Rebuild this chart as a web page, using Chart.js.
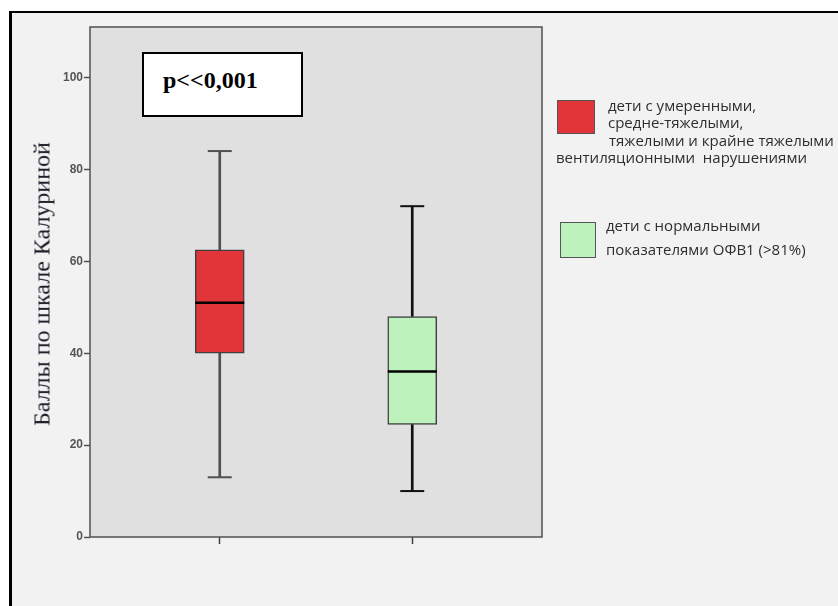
<!DOCTYPE html>
<html lang="ru">
<head>
<meta charset="utf-8">
<title>Баллы по шкале Калуриной</title>
<script src="https://cdn.jsdelivr.net/npm/chart.js@4.4.1/dist/chart.umd.min.js"></script>
<style>
  html, body { margin: 0; padding: 0; background: #ffffff; }
  body { width: 838px; height: 606px; position: relative; overflow: hidden; }
  .frame {
    position: absolute; left: 9px; top: 11px; width: 860px; height: 620px;
    background: #f2f2f2; border-left: 3px solid #000; border-top: 2px solid #000;
  }
  #chart { position: absolute; left: 0; top: 0; }
  .ytitle {
    position: absolute; left: 42px; top: 284px;
    transform: translate(-50%, -50%) rotate(-90deg);
    font-family: "Liberation Serif", "Times New Roman", serif;
    font-size: 24px; color: #1c1c28; white-space: nowrap;
  }
  .pbox {
    position: absolute; left: 142px; top: 52px; width: 157px; height: 61px;
    background: #fff; border: 2px solid #000;
  }
  .pbox span {
    position: absolute; left: 19px; top: 13px;
    font-family: "Liberation Serif", "Times New Roman", serif;
    font-weight: bold; font-size: 24px; color: #000; white-space: nowrap;
  }
  .swatch { position: absolute; border: 1px solid #555; box-sizing: border-box; }
  .ltext {
    position: absolute; font-family: "Open Sans", "Noto Sans", sans-serif;
    font-size: 15px; color: #2e2e2e; white-space: nowrap; line-height: 17px;
  }
</style>
</head>
<body>
<div class="frame"></div>
<canvas id="chart" width="838" height="606"></canvas>
<div class="ytitle">Баллы по шкале Калуриной</div>
<div class="pbox"><span>p&lt;&lt;0,001</span></div>

<div class="swatch" id="sw0" style="left:557px;top:100px;width:38px;height:34px;"></div>
<div class="ltext" style="left:608px;top:97px;">дети с умеренными,</div>
<div class="ltext" style="left:608px;top:114px;">средне-тяжелыми,</div>
<div class="ltext" style="left:609px;top:132px;">тяжелыми и крайне тяжелыми</div>
<div class="ltext" style="left:556px;top:149px;">вентиляционными&nbsp; нарушениями</div>

<div class="swatch" id="sw1" style="left:560px;top:222px;width:36px;height:36px;"></div>
<div class="ltext" style="left:606px;top:217px;">дети с нормальными</div>
<div class="ltext" style="left:606px;top:241px;">показателями ОФВ1 (&gt;81%)</div>

<script>
// Two patient groups, each summarised as a box plot
const groups = ['умеренные и тяжелые нарушения', 'нормальный ОФВ1'];
const groupPositions = [1, 2];
const whiskerLow = [13, 10];
const quartile1 = [40, 24.5];
const medians = [51, 36];
const quartile3 = [62.5, 48];
const whiskerHigh = [84, 72];
const yTicks = [0, 20, 40, 60, 80, 100];

const boxColors = ['#e2353a', '#bdf2bd'];
const whiskerColors = ['#505050', '#111111'];

document.getElementById('sw0').style.background = boxColors[0];
document.getElementById('sw1').style.background = boxColors[1];

// grey plot area with a thin frame
const plotFrame = {
  id: 'plotFrame',
  beforeDraw(chart) {
    const { ctx, chartArea: a } = chart;
    ctx.save();
    ctx.fillStyle = '#e0e0e0';
    ctx.fillRect(a.left, a.top, a.right - a.left, a.bottom - a.top);
    ctx.restore();
  },
  afterDraw(chart) {
    const { ctx, chartArea: a } = chart;
    ctx.save();
    ctx.strokeStyle = '#505050';
    ctx.lineWidth = 1.5;
    ctx.strokeRect(a.left, a.top, a.right - a.left, a.bottom - a.top);
    ctx.restore();
  }
};

const capPoints = [];
const capColors = [];
groupPositions.forEach((x, i) => {
  capPoints.push({ x, y: whiskerLow[i] }, { x, y: whiskerHigh[i] });
  capColors.push(whiskerColors[i], whiskerColors[i]);
});

const whiskerBars = [];
const whiskerBarColors = [];
groupPositions.forEach((x, i) => {
  whiskerBars.push({ x, y: [whiskerLow[i], quartile1[i]] }, { x, y: [quartile3[i], whiskerHigh[i]] });
  whiskerBarColors.push(whiskerColors[i], whiskerColors[i]);
});

new Chart(document.getElementById('chart'), {
  type: 'bar',
  data: {
    datasets: [
      {
        type: 'scatter', label: 'медиана',
        data: groupPositions.map((x, i) => ({ x, y: medians[i] })),
        pointStyle: 'line', pointRadius: 24.5, borderColor: '#000', borderWidth: 2.5,
        pointHoverRadius: 24.5
      },
      {
        type: 'scatter', label: 'границы',
        data: capPoints,
        pointStyle: 'line', pointRadius: 12, borderColor: capColors, borderWidth: 2,
        pointHoverRadius: 12
      },
      {
        label: 'квартили',
        data: groupPositions.map((x, i) => ({ x, y: [quartile1[i], quartile3[i]] })),
        backgroundColor: boxColors, borderColor: '#404040', borderWidth: 1.5,
        borderSkipped: false, barThickness: 49, grouped: false
      },
      {
        label: 'усы',
        data: whiskerBars,
        backgroundColor: whiskerBarColors, borderWidth: 0,
        barThickness: 2, grouped: false
      }
    ]
  },
  options: {
    responsive: false,
    animation: false,
    events: [],
    layout: { padding: { top: 22, right: 296, left: 0, bottom: 0 } },
    plugins: { legend: { display: false }, tooltip: { enabled: false } },
    scales: {
      x: {
        type: 'linear', min: 0.326, max: 2.674, offset: false,
        afterBuildTicks(s) { s.ticks = groupPositions.map(v => ({ value: v })); },
        afterFit(s) { s.height = 69; },
        ticks: { display: false },
        grid: { offset: false, drawOnChartArea: false, drawTicks: true, tickLength: 7, tickColor: '#404040', tickWidth: 1.5 },
        border: { display: false }
      },
      y: {
        type: 'linear', min: 0, max: 111,
        afterBuildTicks(s) { s.ticks = yTicks.map(v => ({ value: v })); },
        afterFit(s) { s.width = 90; },
        ticks: {
          color: '#555555', padding: 1,
          font: { family: 'Liberation Sans, Arial, sans-serif', size: 12, weight: 'bold' }
        },
        grid: { drawOnChartArea: false, drawTicks: true, tickLength: 6, tickColor: '#505050', tickWidth: 1.5 },
        border: { display: false }
      }
    }
  },
  plugins: [plotFrame]
});
</script>
</body>
</html>
